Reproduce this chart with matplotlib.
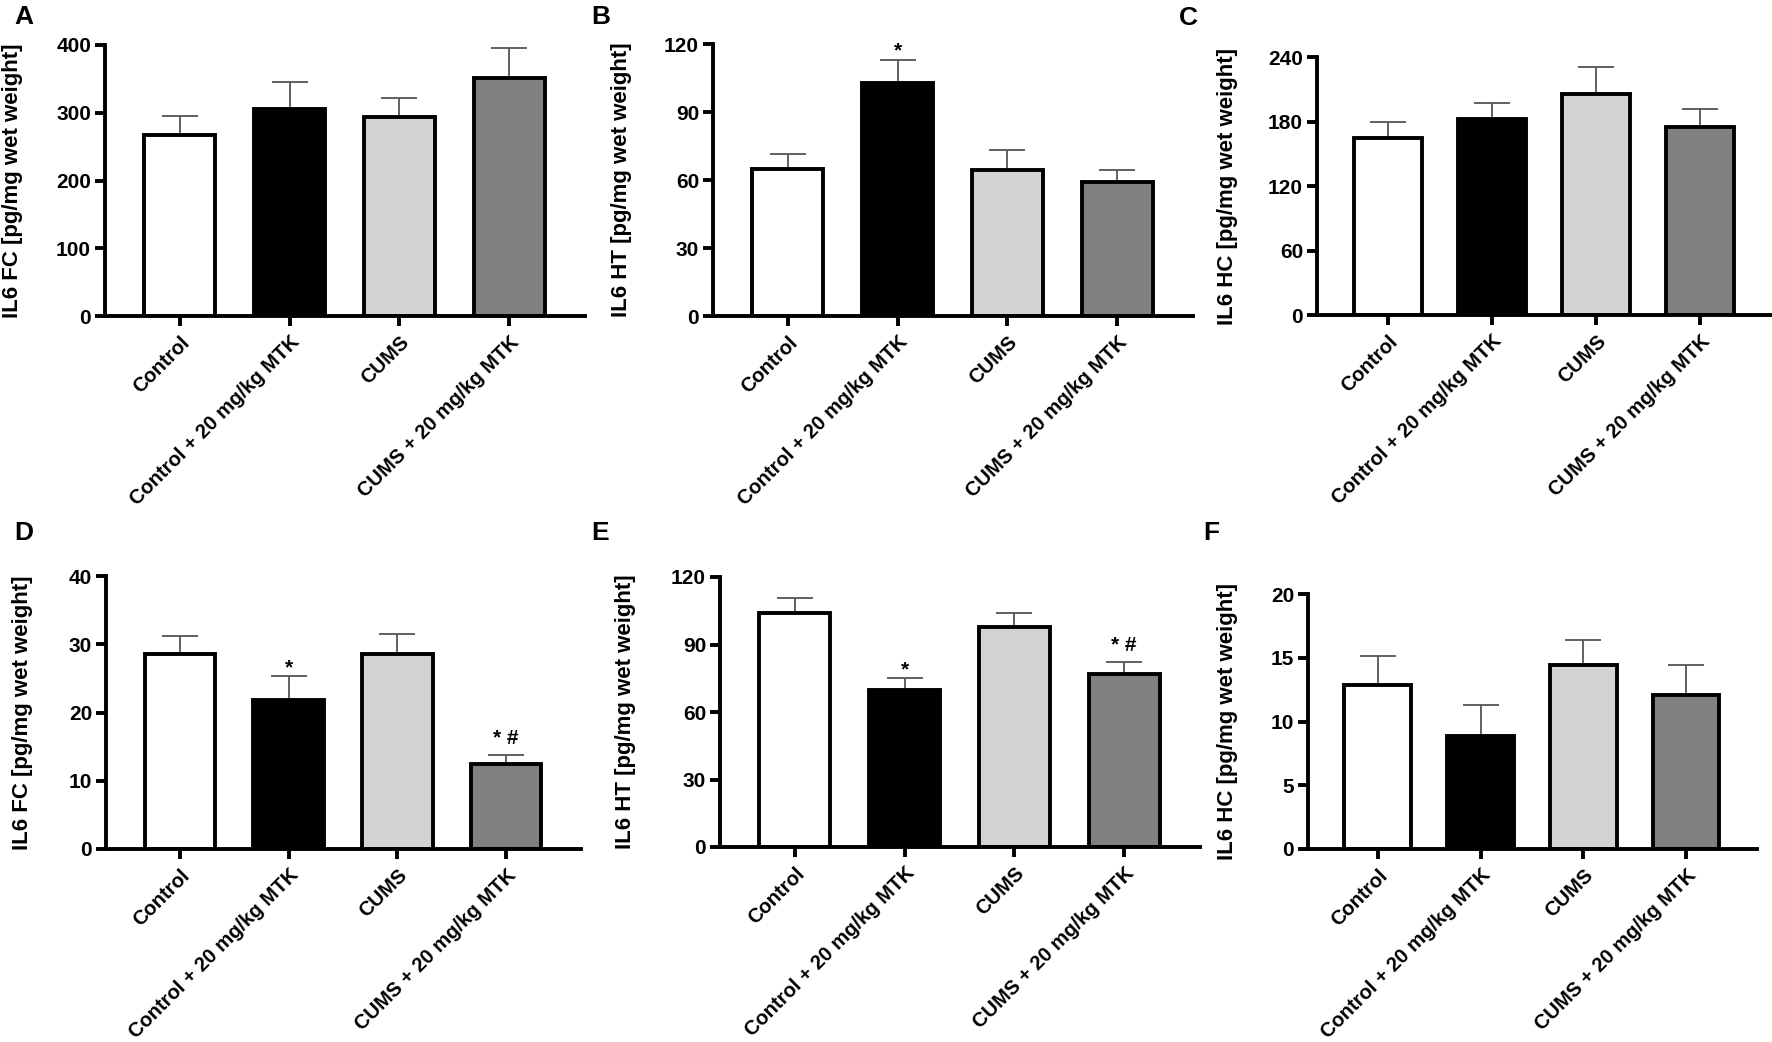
import numpy as np
from matplotlib import pyplot as plt
from matplotlib import transforms

plt.rcParams['font.family'] = ['Liberation Sans', 'DejaVu Sans']
plt.rcParams['font.weight'] = 'bold'

groups = ["Control", "Control + 20 mg/kg MTK", "CUMS", "CUMS + 20 mg/kg MTK"]
bar_colors = ["white", "black", "#d3d3d3", "#808080"]

# values (mean, upper SEM)
fc_a = [267, 305, 293, 352]
fc_a_err = [28, 41, 29, 43]
ht_b = [64.8, 102.8, 64.2, 58.9]
ht_b_err = [6.7, 10.3, 8.9, 5.6]
hc_c = [164.9, 182.2, 206, 175]
hc_c_err = [14.3, 14.6, 24.8, 16.8]
fc_d = [28.5, 21.8, 28.5, 12.5]
fc_d_err = [2.7, 3.5, 3.0, 1.2]
ht_e = [104.2, 69.6, 97.8, 76.8]
ht_e_err = [6.5, 5.5, 6.4, 5.4]
hc_f = [12.9, 8.9, 14.45, 12.1]
hc_f_err = [2.2, 2.4, 1.95, 2.3]

no_marks = ["", "", "", ""]
marks_b = ["", "*", "", ""]
marks_d = ["", "*", "", "* #"]
marks_e = ["", "*", "", "* #"]

W, H = 1772, 1042
fig = plt.figure(figsize=(W / 100, H / 100), dpi=100)

# letter, ylabel, means, errs, marks, ymax, step, (left, right, top, bottom) px, label x px, letter pos px
panels = [
    ("A", "IL6 FC [pg/mg wet weight]", fc_a, fc_a_err, no_marks, 400, 100, (105, 585, 45, 316), 23, (14, 5)),
    ("B", "IL6 HT [pg/mg wet weight]", ht_b, ht_b_err, marks_b, 120, 30, (713, 1193, 44, 316), 632, (591, 5)),
    ("C", "IL6 HC [pg/mg wet weight]", hc_c, hc_c_err, no_marks, 240, 60, (1317, 1772, 57, 315), 1238, (1179, 6)),
    ("D", "IL6 FC [pg/mg wet weight]", fc_d, fc_d_err, marks_d, 40, 10, (106, 581, 576, 849), 33, (14, 521)),
    ("E", "IL6 HT [pg/mg wet weight]", ht_e, ht_e_err, marks_e, 120, 30, (720, 1200, 577, 847), 636, (591, 521)),
    ("F", "IL6 HC [pg/mg wet weight]", hc_f, hc_f_err, no_marks, 20, 5, (1308, 1757, 594, 849), 1238, (1203, 521)),
]

x = np.arange(len(groups))

for letter, ylabel, means, errs, marks, ymax, step, box, lab_x, let_pos in panels:
    l, r, t, b = box
    ax = fig.add_axes([l / W, 1 - b / H, (r - l) / W, (b - t) / H])
    ax.bar(x, means, width=0.65, color=bar_colors, edgecolor="black",
           linewidth=2.8, zorder=2)
    ax.errorbar(x, means, yerr=[np.zeros(len(errs)), errs], fmt="none",
                ecolor="#555555", elinewidth=1.3, capsize=13, capthick=1.3,
                zorder=1, clip_on=False)
    for xi, m, e, mk in zip(x, means, errs, marks):
        if mk:
            off = 8 if "#" in mk else 2
            ax.annotate(mk, (xi, m + e), xytext=(0, off), textcoords="offset points",
                        ha="center", va="baseline", fontsize=15, fontweight="bold")

    ax.set_xlim(-0.68, 3.69)
    ax.set_ylim(0, ymax)
    ax.set_yticks(np.arange(0, ymax + step / 2, step))
    ax.set_xticks(x)
    ax.set_xticklabels(groups, rotation=45, ha="right", va="top",
                       rotation_mode="anchor", fontsize=14.5)
    shift = transforms.ScaledTranslation(4 / 100, 0, fig.dpi_scale_trans)
    for lbl in ax.get_xticklabels():
        lbl.set_transform(lbl.get_transform() + shift)
    ax.tick_params(axis="x", length=7, width=2.8, pad=5)
    ax.tick_params(axis="y", length=7, width=2.8, pad=3, labelsize=15)

    for side in ["top", "right"]:
        ax.spines[side].set_visible(False)
    for side in ["left", "bottom"]:
        ax.spines[side].set_linewidth(2.8)

    ax.set_ylabel(ylabel, fontsize=16, fontweight="bold")
    ax.yaxis.set_label_coords((lab_x - l) / (r - l), 0.5)

    fig.text(let_pos[0] / W, 1 - let_pos[1] / H, letter, ha="left", va="top",
             fontsize=19, fontweight="bold")

fig.savefig("out.png", dpi=100)
